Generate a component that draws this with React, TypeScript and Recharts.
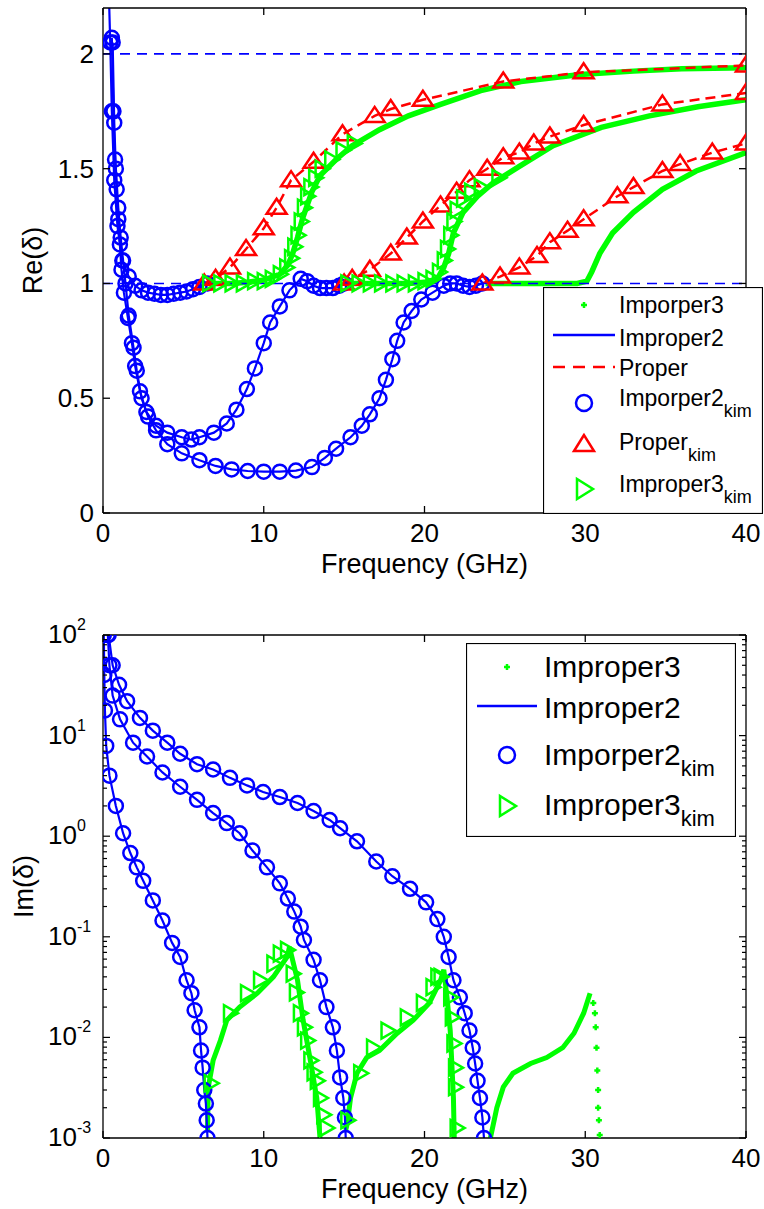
import React from "react";
import { ComposedChart, Line, Scatter, XAxis, YAxis, ReferenceLine } from "recharts";

// ---- shared axes ----
const freqTicks = [0, 10, 20, 30, 40];
const reTicks = [0, 0.5, 1, 1.5, 2];
const imDecades = [0.001, 0.01, 0.1, 1, 10, 100];
const imTicks = imDecades.flatMap((d) => (d === 100 ? [d] : [1, 2, 3, 4, 5, 6, 7, 8, 9].map((m) => +(m * d).toPrecision(3))));

// ---- Re(delta), [frequency GHz, value] ----
const reImproper2A = [[0.35, 2.3], [0.45, 2.05], [0.55, 1.75], [0.7, 1.45], [0.9, 1.25], [1.2, 1.1], [1.6, 1.03], [2.0, 0.99], [2.4, 0.97], [2.8, 0.96], [3.2, 0.955], [3.6, 0.95], [4.0, 0.95], [4.4, 0.955], [4.8, 0.96], [5.2, 0.965], [5.6, 0.975], [6.0, 0.985], [6.5, 1.0]];
const reImproper2B = [[0.55, 2.07], [0.65, 1.75], [0.75, 1.54], [0.85, 1.41], [0.95, 1.28], [1.05, 1.17], [1.15, 1.06], [1.3, 0.96], [1.55, 0.85], [1.8, 0.74], [2.0, 0.64], [2.3, 0.53], [2.7, 0.44], [3.3, 0.38], [4.0, 0.35], [4.9, 0.33], [5.5, 0.32], [6.0, 0.33], [6.9, 0.35], [7.7, 0.39], [8.3, 0.45], [8.95, 0.54], [9.45, 0.63], [10.0, 0.74], [10.4, 0.83], [11.0, 0.9], [11.6, 0.97], [12.3, 1.02], [12.7, 1.01], [13.1, 0.99], [13.5, 0.98], [13.9, 0.98], [14.3, 0.98], [14.7, 0.99], [15.0, 1.0]];
const reImproper2C = [[0.6, 2.05], [0.7, 1.7], [0.8, 1.5], [0.95, 1.33], [1.1, 1.2], [1.25, 1.1], [1.4, 1.0], [1.6, 0.86], [1.9, 0.72], [2.1, 0.62], [2.4, 0.5], [2.8, 0.42], [3.3, 0.36], [4.0, 0.3], [4.9, 0.26], [6.0, 0.23], [7.0, 0.205], [8.0, 0.19], [9.0, 0.183], [10.0, 0.18], [11.0, 0.18], [12.0, 0.185], [13.0, 0.2], [13.8, 0.24], [14.5, 0.28], [15.4, 0.33], [16.1, 0.38], [16.6, 0.43], [17.2, 0.5], [17.6, 0.58], [18.0, 0.67], [18.3, 0.75], [18.7, 0.83], [19.2, 0.88], [19.8, 0.93], [20.5, 0.96], [21.2, 0.99], [21.6, 1.0], [22.0, 1.0], [22.4, 0.99], [22.8, 0.985], [23.2, 0.99], [23.6, 1.0]];
const reImproper3A = [[6.5, 1.0], [8, 1.0], [9, 1.005], [10, 1.015], [11, 1.04], [11.5, 1.08], [11.8, 1.13], [12.1, 1.2], [12.4, 1.28], [12.7, 1.34], [13.0, 1.4], [13.5, 1.47], [14.5, 1.54], [15.5, 1.6], [17.2, 1.67], [19, 1.73], [21, 1.78], [23.5, 1.84], [26, 1.88], [29.7, 1.91], [33, 1.925], [36, 1.935], [40, 1.94]];
const reImproper3B = [[15, 1.0], [17, 1.0], [19, 1.0], [20, 1.005], [20.8, 1.02], [21.2, 1.07], [21.5, 1.13], [21.8, 1.22], [22.4, 1.31], [23.3, 1.38], [24.3, 1.44], [25.9, 1.51], [28, 1.6], [31, 1.68], [34, 1.73], [37, 1.77], [40, 1.8]];
const reImproper3C = [[23.8, 1.0], [26, 1.0], [28, 1.0], [29.5, 1.0], [30.1, 1.01], [30.4, 1.05], [30.9, 1.13], [31.7, 1.22], [33, 1.31], [34.8, 1.41], [36.9, 1.49], [40, 1.57]];
const reImproper3KimA = [[6.6, 1.0], [7.3, 1.0], [8.0, 1.0], [8.7, 1.0], [9.4, 1.01], [10.0, 1.01], [10.5, 1.02], [11.0, 1.04], [11.4, 1.07], [11.7, 1.11], [11.9, 1.16], [12.1, 1.21], [12.3, 1.27], [12.5, 1.33], [12.7, 1.38], [12.9, 1.42], [13.2, 1.46], [13.6, 1.5], [14.2, 1.54], [14.9, 1.58], [15.6, 1.61]];
const reImproper3KimB = [[15.2, 1.0], [15.9, 1.0], [16.6, 1.0], [17.3, 1.0], [18.0, 1.0], [18.7, 1.0], [19.4, 1.0], [20.0, 1.01], [20.5, 1.02], [20.9, 1.05], [21.2, 1.1], [21.4, 1.15], [21.6, 1.21], [21.8, 1.27], [22.0, 1.32], [22.4, 1.37], [22.9, 1.4], [23.5, 1.42], [24.6, 1.46]];
const reProperA = [[6.3, 1.0], [7.0, 1.02], [7.9, 1.07], [8.9, 1.15], [10.0, 1.24], [10.8, 1.33], [11.7, 1.45], [13.1, 1.53], [14.9, 1.65], [16.9, 1.73], [17.9, 1.76], [19.9, 1.8], [24.9, 1.88], [29.9, 1.92], [40, 1.95]];
const reProperB = [[15.0, 1.0], [15.5, 1.02], [16.6, 1.06], [17.9, 1.13], [18.9, 1.2], [19.9, 1.27], [21.0, 1.34], [22.0, 1.4], [22.8, 1.45], [23.9, 1.5], [24.9, 1.55], [25.9, 1.57], [26.8, 1.61], [27.8, 1.64], [29.9, 1.69], [34.8, 1.78], [40, 1.83]];
const reProperC = [[23.6, 1.0], [24.7, 1.03], [25.9, 1.07], [27.0, 1.12], [27.8, 1.18], [28.9, 1.23], [29.9, 1.28], [32.0, 1.38], [33.0, 1.42], [34.8, 1.49], [35.9, 1.52], [37.9, 1.57], [40, 1.61]];
const reLevels = [1, 2];

// ---- Im(delta), [frequency GHz, value] ----
const imImproper2A = [[0.05, 100], [0.08, 40], [0.12, 17.8], [0.2, 7.9], [0.4, 4.0], [0.8, 2.0], [1.25, 1.07], [1.7, 0.68], [2.1, 0.49], [2.5, 0.36], [3.1, 0.23], [3.7, 0.145], [4.3, 0.087], [4.8, 0.063], [5.2, 0.037], [5.5, 0.0275], [5.7, 0.0186], [6.0, 0.0126], [6.1, 0.0074], [6.2, 0.005], [6.3, 0.003], [6.4, 0.0022], [6.45, 0.0015], [6.5, 0.001]];
const imImproper2B = [[0.3, 100], [0.4, 50], [0.6, 25], [1.06, 14.5], [1.87, 8.5], [2.74, 6.2], [3.7, 4.3], [4.8, 3.1], [5.85, 2.3], [6.85, 1.7], [7.7, 1.35], [8.5, 1.07], [9.3, 0.72], [10.2, 0.49], [11.0, 0.34], [11.5, 0.24], [11.9, 0.178], [12.3, 0.126], [12.5, 0.093], [13.1, 0.059], [13.5, 0.037], [13.9, 0.02], [14.3, 0.0126], [14.55, 0.0074], [14.75, 0.004], [14.95, 0.0025], [15.05, 0.0016], [15.1, 0.001]];
const imImproper2C = [[0.35, 100], [0.6, 50], [1.0, 32], [1.5, 22], [2.3, 15], [3.1, 11.2], [4.0, 8.5], [4.8, 6.6], [5.85, 5.2], [6.85, 4.6], [7.9, 3.8], [8.96, 3.2], [9.96, 2.75], [11.0, 2.45], [12.1, 2.14], [13.1, 1.78], [14.1, 1.45], [14.75, 1.2], [15.8, 0.89], [17.0, 0.56], [18.0, 0.4], [19.1, 0.3], [20.1, 0.22], [20.8, 0.15], [21.2, 0.1], [21.5, 0.063], [21.8, 0.037], [22.2, 0.025], [22.5, 0.0174], [22.8, 0.0117], [23.0, 0.0079], [23.15, 0.0055], [23.3, 0.0037], [23.45, 0.0025], [23.6, 0.0016], [23.7, 0.001]];
const imImproper3A = [[6.5, 0.0012], [6.55, 0.0032], [6.85, 0.0059], [7.3, 0.0093], [7.7, 0.0148], [8.5, 0.02], [9.6, 0.0275], [10.6, 0.04], [11.45, 0.063], [11.6, 0.079], [12.1, 0.037], [12.45, 0.0148], [12.9, 0.0059], [13.3, 0.0025], [13.5, 0.001]];
const imImproper3B = [[15.1, 0.0012], [15.2, 0.0014], [15.4, 0.0025], [15.8, 0.0044], [16.4, 0.0063], [17.2, 0.0074], [18.3, 0.011], [19.3, 0.0148], [20.3, 0.022], [21.0, 0.037], [21.2, 0.047], [21.4, 0.025], [21.6, 0.0117], [21.7, 0.0055], [21.8, 0.0025], [21.85, 0.001]];
const imImproper3C = [[24.1, 0.001], [24.5, 0.002], [24.9, 0.0032], [25.5, 0.0044], [26.6, 0.0055], [27.6, 0.0063], [28.6, 0.0079], [29.3, 0.011], [29.9, 0.0174], [30.3, 0.0275]];
const imImproper3Tail = [[30.5, 0.022], [30.6, 0.0174], [30.65, 0.0126], [30.7, 0.0079], [30.75, 0.0047], [30.8, 0.003], [30.8, 0.002], [30.85, 0.0015], [30.9, 0.00107]];
const imImproper3KimA = [[6.7, 0.0035], [7.9, 0.0174], [8.96, 0.0275], [9.77, 0.037], [10.6, 0.054], [11.0, 0.068], [11.45, 0.074], [11.8, 0.043], [12.0, 0.028], [12.25, 0.0174], [12.5, 0.0126], [12.7, 0.0093], [12.9, 0.0059], [13.1, 0.0045], [13.3, 0.0037], [13.5, 0.0025], [13.7, 0.0017], [13.9, 0.00126]];
const imImproper3KimB = [[15.2, 0.0015], [16.0, 0.0044], [16.8, 0.0079], [17.7, 0.0117], [18.9, 0.0158], [19.9, 0.022], [20.5, 0.0316], [20.8, 0.04], [21.0, 0.04], [21.6, 0.025], [21.7, 0.0158], [21.8, 0.0087], [21.9, 0.005], [21.9, 0.0032], [22.0, 0.00126]];

const toPts = (rows: number[][]) => rows.map(([f, v]) => ({ f, v }));

const BLUE = "#0000ff";
const RED = "#ff0000";
const GREEN = "#00ff00";
const FONT = "'Liberation Sans', Arial, Helvetica, sans-serif";
const AXIS = { stroke: "#000", strokeWidth: 1.3 };

// markers
const CircleMark = (p: any) => <circle cx={p.cx} cy={p.cy} r={7} fill="none" stroke={BLUE} strokeWidth={2.5} />;
const UpTri = (p: any) => (
  <polygon points={`${p.cx},${p.cy - 9} ${p.cx - 10},${p.cy + 6} ${p.cx + 10},${p.cy + 6}`} fill="none" stroke={RED} strokeWidth={2.5} />
);
const RightTri = (p: any) => (
  <polygon points={`${p.cx - 6},${p.cy - 8} ${p.cx - 6},${p.cy + 8} ${p.cx + 8},${p.cy}`} fill="none" stroke={GREEN} strokeWidth={2.5} />
);
const PlusMark = (p: any) => <path d={`M${p.cx - 3},${p.cy}h6M${p.cx},${p.cy - 3}v6`} stroke={GREEN} strokeWidth={2.5} />;

// ticks (MATLAB style, pointing inward)
const BottomTick = ({ x, y, payload }: any) => (
  <g>
    <line x1={x} x2={x} y1={y} y2={y - 7} stroke="#000" strokeWidth={1.3} />
    <text x={x} y={y + 29} textAnchor="middle" fontSize={26} fontFamily={FONT} fill="#000">{payload.value}</text>
  </g>
);
const TopTick = ({ x, y }: any) => <line x1={x} x2={x} y1={y} y2={y + 7} stroke="#000" strokeWidth={1.3} />;
const ReLeftTick = ({ x, y, payload }: any) => (
  <g>
    <line x1={x} x2={x + 7} y1={y} y2={y} stroke="#000" strokeWidth={1.3} />
    <text x={x - 9} y={y + 9} textAnchor="end" fontSize={26} fontFamily={FONT} fill="#000">{payload.value}</text>
  </g>
);
const ReRightTick = ({ x, y }: any) => <line x1={x} x2={x - 7} y1={y} y2={y} stroke="#000" strokeWidth={1.3} />;
const isDecade = (v: number) => Math.abs(Math.log10(v) - Math.round(Math.log10(v))) < 1e-6;
const LogLeftTick = ({ x, y, payload }: any) => {
  const major = isDecade(payload.value);
  return (
    <g>
      <line x1={x} x2={x + (major ? 7 : 4)} y1={y} y2={y} stroke="#000" strokeWidth={1.2} />
      {major && (
        <text x={x - 55} y={y + 8} fontSize={26} fontFamily={FONT} fill="#000">
          10<tspan dy={-13} fontSize={16}>{Math.round(Math.log10(payload.value))}</tspan>
        </text>
      )}
    </g>
  );
};
const LogRightTick = ({ x, y, payload }: any) => (
  <line x1={x} x2={x - (isDecade(payload.value) ? 7 : 4)} y1={y} y2={y} stroke="#000" strokeWidth={1.2} />
);

const freqLabel = (p: any) => {
  const vb = p.viewBox;
  return (
    <text x={vb.x + vb.width / 2} y={vb.y + 60} textAnchor="middle" fontSize={27} fontFamily={FONT} fill="#000">
      Frequency (GHz)
    </text>
  );
};
const yTitle = (text: string, dx: number) => (p: any) => {
  const vb = p.viewBox;
  const bx = vb.x + dx;
  const cy = vb.y + vb.height / 2;
  return (
    <text x={bx} y={cy} transform={`rotate(-90 ${bx} ${cy})`} textAnchor="middle" fontSize={27} fontFamily={FONT} fill="#000">
      {text}
    </text>
  );
};

const lineEl = (key: string, rows: number[][], color: string, width: number, dash?: string) => (
  <Line key={key} xAxisId="b" yAxisId="l" data={toPts(rows)} dataKey="v" type="linear" stroke={color} strokeWidth={width}
    strokeDasharray={dash} dot={false} activeDot={false} isAnimationActive={false} />
);
const scatterEl = (key: string, rows: number[][], shape: any) => (
  <Scatter key={key} xAxisId="b" yAxisId="l" data={toPts(rows)} dataKey="v" shape={shape} isAnimationActive={false} />
);

function ReChart() {
  return (
    <ComposedChart width={764} height={590} margin={{ top: 7, right: 16, bottom: 7, left: 43 }}>
      <XAxis xAxisId="b" dataKey="f" type="number" domain={[0, 40]} ticks={freqTicks} interval={0} allowDataOverflow
        height={70} tickSize={0} tickMargin={0} tick={<BottomTick />} axisLine={AXIS} label={freqLabel} />
      <XAxis xAxisId="t" orientation="top" dataKey="f" type="number" domain={[0, 40]} ticks={freqTicks} interval={0}
        allowDataOverflow height={1} tickSize={0} tickMargin={0} tick={<TopTick />} axisLine={AXIS} />
      <YAxis yAxisId="l" dataKey="v" type="number" domain={[0, 2.2]} ticks={reTicks} interval={0} allowDataOverflow
        width={60} tickSize={0} tickMargin={0} tick={<ReLeftTick />} axisLine={AXIS} label={yTitle("Re(δ)", -1)} />
      <YAxis yAxisId="r" orientation="right" dataKey="v" type="number" domain={[0, 2.2]} ticks={reTicks} interval={0}
        allowDataOverflow width={2} tickSize={0} tickMargin={0} tick={<ReRightTick />} axisLine={AXIS} />
      {[reImproper3A, reImproper3B, reImproper3C].map((r, i) => lineEl(`g${i}`, r, GREEN, 5.5))}
      {[reImproper2A, reImproper2B, reImproper2C].map((r, i) => lineEl(`b${i}`, r, BLUE, 2.2))}
      {[reProperA, reProperB, reProperC].map((r, i) => lineEl(`r${i}`, r, RED, 2.5, "10 6"))}
      {[reImproper2A, reImproper2B, reImproper2C].map((r, i) => scatterEl(`bc${i}`, r, CircleMark))}
      {[reProperA, reProperB, reProperC].map((r, i) => scatterEl(`rt${i}`, r, UpTri))}
      {[reImproper3KimA, reImproper3KimB].map((r, i) => scatterEl(`gt${i}`, r, RightTri))}
      {reLevels.map((y) => (
        <ReferenceLine key={`lv${y}`} xAxisId="b" yAxisId="l" y={y} stroke={BLUE} strokeWidth={1.6} strokeDasharray="10 7" />
      ))}
    </ComposedChart>
  );
}

function ImChart() {
  return (
    <ComposedChart width={764} height={619} margin={{ top: 44, right: 16, bottom: 1, left: 43 }}>
      <XAxis xAxisId="b" dataKey="f" type="number" domain={[0, 40]} ticks={freqTicks} interval={0} allowDataOverflow
        height={70} tickSize={0} tickMargin={0} tick={<BottomTick />} axisLine={AXIS} label={freqLabel} />
      <XAxis xAxisId="t" orientation="top" dataKey="f" type="number" domain={[0, 40]} ticks={freqTicks} interval={0}
        allowDataOverflow height={1} tickSize={0} tickMargin={0} tick={<TopTick />} axisLine={AXIS} />
      <YAxis yAxisId="l" dataKey="v" type="number" scale="log" domain={[0.001, 100]} ticks={imTicks} interval={0}
        allowDataOverflow width={60} tickSize={0} tickMargin={0} tick={<LogLeftTick />} axisLine={AXIS}
        label={yTitle("Im(δ)", -10)} />
      <YAxis yAxisId="r" orientation="right" dataKey="v" type="number" scale="log" domain={[0.001, 100]} ticks={imTicks}
        interval={0} allowDataOverflow width={2} tickSize={0} tickMargin={0} tick={<LogRightTick />} axisLine={AXIS} />
      {[imImproper3A, imImproper3B, imImproper3C].map((r, i) => lineEl(`g${i}`, r, GREEN, 5))}
      {scatterEl("gtail", imImproper3Tail, PlusMark)}
      {[imImproper2A, imImproper2B, imImproper2C].map((r, i) => lineEl(`b${i}`, r, BLUE, 2.2))}
      {[imImproper2A, imImproper2B, imImproper2C].map((r, i) => scatterEl(`bc${i}`, r, CircleMark))}
      {[imImproper3KimA, imImproper3KimB].map((r, i) => scatterEl(`gt${i}`, r, RightTri))}
    </ComposedChart>
  );
}

type Entry = { label: string; sub?: string; kind: "plus" | "line" | "dash" | "circle" | "up" | "right" };

const topLegend: Entry[] = [
  { label: "Imporper3", kind: "plus" },
  { label: "Improper2", kind: "line" },
  { label: "Proper", kind: "dash" },
  { label: "Imporper2", sub: "kim", kind: "circle" },
  { label: "Proper", sub: "kim", kind: "up" },
  { label: "Improper3", sub: "kim", kind: "right" },
];
const bottomLegend: Entry[] = [
  { label: "Improper3", kind: "plus" },
  { label: "Improper2", kind: "line" },
  { label: "Imporper2", sub: "kim", kind: "circle" },
  { label: "Improper3", sub: "kim", kind: "right" },
];

function Symbol({ kind, cx, cy, x0, x1 }: { kind: Entry["kind"]; cx: number; cy: number; x0: number; x1: number }) {
  if (kind === "line") return <line x1={x0} x2={x1} y1={cy} y2={cy} stroke={BLUE} strokeWidth={2.5} />;
  if (kind === "dash") return <line x1={x0} x2={x1} y1={cy} y2={cy} stroke={RED} strokeWidth={2.5} strokeDasharray="12 8" />;
  if (kind === "plus") return <PlusMark cx={cx} cy={cy} />;
  if (kind === "circle") return <circle cx={cx} cy={cy} r={8} fill="none" stroke={BLUE} strokeWidth={2.5} />;
  if (kind === "up")
    return <polygon points={`${cx},${cy - 9} ${cx - 10},${cy + 7} ${cx + 10},${cy + 7}`} fill="none" stroke={RED} strokeWidth={2.5} />;
  return <polygon points={`${cx - 7},${cy - 10} ${cx - 7},${cy + 10} ${cx + 9},${cy}`} fill="none" stroke={GREEN} strokeWidth={2.5} />;
}

function LegendBox(props: {
  entries: Entry[]; left: number; top: number; width: number; height: number;
  rows: number[]; marks: number[]; textX: number; markX: number; lineX: [number, number];
  size: number; subSize: number; subDy: number;
}) {
  const { entries, left, top, width, height, rows, marks, textX, markX, lineX, size, subSize, subDy } = props;
  return (
    <svg width={width} height={height} style={{ position: "absolute", left, top }}>
      <rect x={0.5} y={0.5} width={width - 1} height={height - 1} fill="#fff" stroke="#000" strokeWidth={1.2} />
      {entries.map((e, i) => (
        <g key={i}>
          <Symbol kind={e.kind} cx={markX} cy={marks[i]} x0={lineX[0]} x1={lineX[1]} />
          <text x={textX} y={rows[i]} fontSize={size} fontFamily={FONT} fill="#000">
            {e.label}
            {e.sub && <tspan dy={subDy} fontSize={subSize}>{e.sub}</tspan>}
          </text>
        </g>
      ))}
    </svg>
  );
}

export default function App() {
  return (
    <div style={{ position: "absolute", left: 0, top: 0, width: 764, height: 1209, background: "#fff" }}>
      <div style={{ position: "absolute", left: 0, top: 0 }}>
        <ReChart />
      </div>
      <div style={{ position: "absolute", left: 0, top: 590 }}>
        <ImChart />
      </div>
      <LegendBox entries={topLegend} left={543} top={287} width={220} height={227}
        rows={[26, 59, 89, 119, 163, 205]} marks={[18, 48, 80, 116, 157, 202]}
        textX={76} markX={41} lineX={[10, 72]} size={23} subSize={18} subDy={11} />
      <LegendBox entries={bottomLegend} left={466} top={643} width={270} height={194}
        rows={[34, 75, 122, 172]} marks={[24, 63, 112, 163]}
        textX={78} markX={41} lineX={[11, 71]} size={30} subSize={22} subDy={11} />
    </div>
  );
}
